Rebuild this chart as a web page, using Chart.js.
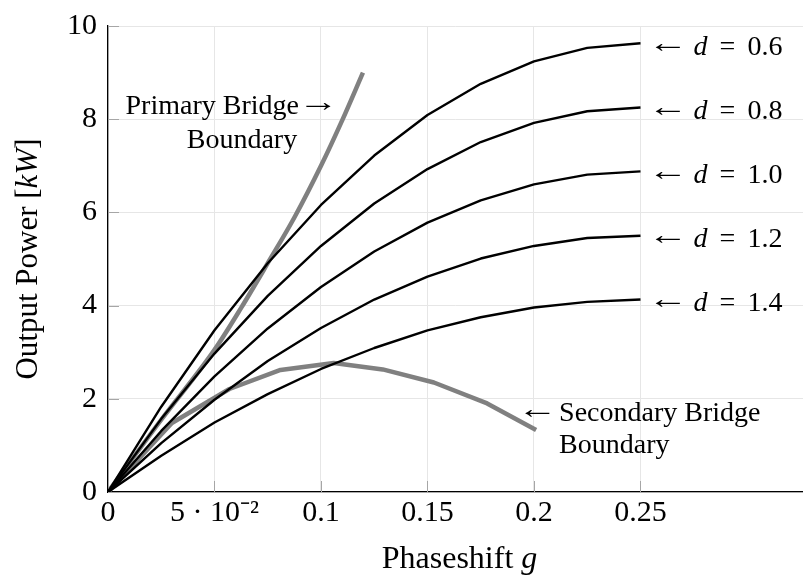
<!DOCTYPE html>
<html>
<head>
<meta charset="utf-8">
<script src="https://cdn.jsdelivr.net/npm/chart.js@4.4.1/dist/chart.umd.min.js"></script>
<style>
  html, body { margin: 0; padding: 0; background: #ffffff; }
  #wrap { width: 803px; height: 584px; }
</style>
</head>
<body>
<div id="wrap"><canvas id="c" width="803" height="584"></canvas></div>
<script>
// Phase shift samples shared by the constant-d curves
const phaseShift = [0, 0.025, 0.05, 0.075, 0.1, 0.125, 0.15, 0.175, 0.2, 0.225, 0.25];

// Output power [kW] for each duty ratio d
const powerD06 = [0, 1.83, 3.47, 4.91, 6.16, 7.22, 8.09, 8.76, 9.24, 9.53, 9.63];
const powerD08 = [0, 1.57, 2.97, 4.21, 5.28, 6.19, 6.93, 7.51, 7.92, 8.17, 8.25];
const powerD10 = [0, 1.31, 2.48, 3.51, 4.40, 5.16, 5.78, 6.26, 6.60, 6.81, 6.88];
const powerD12 = [0, 1.05, 1.98, 2.81, 3.52, 4.13, 4.62, 5.01, 5.28, 5.45, 5.50];
const powerD14 = [0, 0.78, 1.49, 2.10, 2.64, 3.09, 3.47, 3.75, 3.96, 4.08, 4.13];
const dutyRatios = ['0.6', '0.8', '1.0', '1.2', '1.4'];

// Soft-switching boundaries
const primaryG   = [0, 0.025, 0.05, 0.0625, 0.075, 0.0875, 0.1, 0.11, 0.1197];
const primaryP   = [0, 1.55, 3.05, 3.95, 4.91, 5.89, 7.00, 7.98, 9.00];
const secondaryG = [0, 0.030, 0.057, 0.081, 0.106, 0.129, 0.153, 0.178, 0.201];
const secondaryP = [0, 1.48, 2.21, 2.62, 2.77, 2.63, 2.35, 1.90, 1.33];

// Axis ticks
const xTicks = [0, 0.05, 0.1, 0.15, 0.2, 0.25];
const xTickLabels = ['0', '5 \u00b7 10\u207b\u00b2', '0.1', '0.15', '0.2', '0.25'];
const yTicks = [0, 2, 4, 6, 8, 10];

const SERIF = "'Liberation Serif', 'Times New Roman', serif";

const pts = (xs, ys) => xs.map((x, i) => ({ x: x, y: ys[i] }));
const curves = [powerD06, powerD08, powerD10, powerD12, powerD14];

const curveSets = curves.map((vals, i) => ({
  label: 'd = ' + dutyRatios[i],
  data: pts(phaseShift, vals),
  borderColor: '#000000',
  borderWidth: 2.4,
  pointRadius: 0,
  tension: 0,
  borderJoinStyle: 'round',
  order: 1
}));

const boundarySets = [
  {
    label: 'Primary Bridge Boundary',
    data: pts(primaryG, primaryP),
    borderColor: '#808080',
    borderWidth: 4.5,
    pointRadius: 0,
    cubicInterpolationMode: 'monotone',
    borderJoinStyle: 'round',
    order: 2
  },
  {
    label: 'Secondary Bridge Boundary',
    data: pts(secondaryG, secondaryP),
    borderColor: '#808080',
    borderWidth: 4.5,
    pointRadius: 0,
    tension: 0,
    borderJoinStyle: 'round',
    order: 2
  }
];

// Draws a run of text pieces (regular / italic) starting at x
function drawRun(ctx, pieces, x, y, size) {
  let cx = x;
  pieces.forEach(p => {
    ctx.font = (p.italic ? 'italic ' : '') + size + 'px ' + SERIF;
    ctx.fillText(p.t, cx, y);
    cx += ctx.measureText(p.t).width;
  });
  return cx;
}
function runWidth(ctx, pieces, size) {
  let w = 0;
  pieces.forEach(p => {
    ctx.font = (p.italic ? 'italic ' : '') + size + 'px ' + SERIF;
    w += ctx.measureText(p.t).width;
  });
  return w;
}
// Thin arrow glyph centred on cx, stretched to a wider shape
function drawArrow(ctx, glyph, cx, y) {
  ctx.save();
  ctx.translate(cx, y - 3);
  ctx.scale(1.45, 1);
  ctx.font = '28px ' + SERIF;
  ctx.textAlign = 'center';
  ctx.fillText(glyph, 0, 0);
  ctx.restore();
}

const decorations = {
  id: 'decorations',
  beforeDatasetsDraw(chart) {
    // short inward tick marks
    const { ctx, chartArea, scales } = chart;
    ctx.save();
    ctx.strokeStyle = '#a6a6a6';
    ctx.lineWidth = 1;
    ctx.beginPath();
    xTicks.forEach(v => {
      const px = Math.round(scales.x.getPixelForValue(v)) + 0.5;
      ctx.moveTo(px, chartArea.bottom);
      ctx.lineTo(px, chartArea.bottom - 11);
    });
    yTicks.forEach(v => {
      const py = Math.round(scales.y.getPixelForValue(v)) + 0.5;
      ctx.moveTo(chartArea.left, py);
      ctx.lineTo(chartArea.left + 11, py);
    });
    ctx.stroke();
    ctx.restore();
  },
  afterDraw(chart) {
    const { ctx, chartArea, scales } = chart;
    const sx = scales.x, sy = scales.y;
    ctx.save();
    ctx.fillStyle = '#000000';
    ctx.textBaseline = 'alphabetic';
    ctx.textAlign = 'left';

    // x axis title
    const xt = [{ t: 'Phaseshift ' }, { t: 'g', italic: true }];
    const xw = runWidth(ctx, xt, 32);
    drawRun(ctx, xt, (chartArea.left + chartArea.right) / 2 + 4 - xw / 2, 568, 32);

    // y axis title
    const yt = [{ t: 'Output Power [' }, { t: 'kW', italic: true }, { t: ']' }];
    const yw = runWidth(ctx, yt, 31);
    ctx.save();
    ctx.translate(37, (chartArea.top + chartArea.bottom) / 2);
    ctx.rotate(-Math.PI / 2);
    drawRun(ctx, yt, -yw / 2, 0, 31);
    ctx.restore();

    // labels at the end of each constant-d curve
    const AS = 28;
    curves.forEach((vals, i) => {
      const ex = sx.getPixelForValue(phaseShift[phaseShift.length - 1]);
      const ey = sy.getPixelForValue(vals[vals.length - 1]);
      const by = ey + 11.5;
      drawArrow(ctx, '\u2190', ex + 27, by);
      ctx.textAlign = 'left';
      ctx.font = 'italic ' + AS + 'px ' + SERIF;
      ctx.fillText('d', ex + 53, by);
      ctx.font = AS + 'px ' + SERIF;
      ctx.textAlign = 'center';
      ctx.fillText('=', ex + 87, by);
      ctx.textAlign = 'left';
      ctx.fillText(dutyRatios[i], ex + 107, by);
    });

    // primary boundary label
    const pEx = sx.getPixelForValue(primaryG[primaryG.length - 1]);
    const pEy = sy.getPixelForValue(primaryP[primaryP.length - 1]);
    ctx.font = AS + 'px ' + SERIF;
    ctx.textAlign = 'right';
    ctx.fillText('Primary Bridge', pEx - 64, pEy + 41);
    drawArrow(ctx, '\u2192', pEx - 45, pEy + 41);
    ctx.font = AS + 'px ' + SERIF;
    ctx.textAlign = 'center';
    ctx.fillText('Boundary', pEx - 121, pEy + 75);

    // secondary boundary label
    const sEx = sx.getPixelForValue(secondaryG[secondaryG.length - 1]);
    const sEy = sy.getPixelForValue(secondaryP[secondaryP.length - 1]);
    drawArrow(ctx, '\u2190', sEx + 1, sEy - 9);
    ctx.font = AS + 'px ' + SERIF;
    ctx.textAlign = 'left';
    ctx.fillText('Secondary Bridge', sEx + 23, sEy - 9);
    ctx.fillText('Boundary', sEx + 23, sEy + 23);
    ctx.restore();
  }
};

new Chart(document.getElementById('c'), {
  type: 'line',
  data: { datasets: curveSets.concat(boundarySets) },
  options: {
    responsive: false,
    devicePixelRatio: 1,
    animation: false,
    layout: { padding: { top: 16, left: 0, right: 0, bottom: 0 } },
    plugins: { legend: { display: false }, tooltip: { enabled: false } },
    scales: {
      x: {
        type: 'linear',
        min: 0,
        max: 0.3263,
        afterBuildTicks: s => { s.ticks = xTicks.map(v => ({ value: v })); },
        afterFit: s => { s.height = 92; },
        grid: { color: '#e6e6e6', lineWidth: 1, drawTicks: false },
        border: { display: true, color: '#000000', width: 1.3 },
        ticks: {
          color: '#000000',
          padding: 3,
          maxRotation: 0,
          autoSkip: false,
          font: { family: SERIF, size: 30, lineHeight: 1.2 },
          callback: (v, i) => xTickLabels[i]
        }
      },
      y: {
        type: 'linear',
        min: 0,
        max: 10,
        afterBuildTicks: s => { s.ticks = yTicks.map(v => ({ value: v })); },
        afterFit: s => { s.width = 108; },
        grid: { color: '#e6e6e6', lineWidth: 1, drawTicks: false },
        border: { display: true, color: '#000000', width: 1.3 },
        ticks: {
          color: '#000000',
          padding: 11,
          autoSkip: false,
          font: { family: SERIF, size: 30, lineHeight: 1.0 },
          callback: v => String(v)
        }
      }
    }
  },
  plugins: [decorations]
});
</script>
</body>
</html>
